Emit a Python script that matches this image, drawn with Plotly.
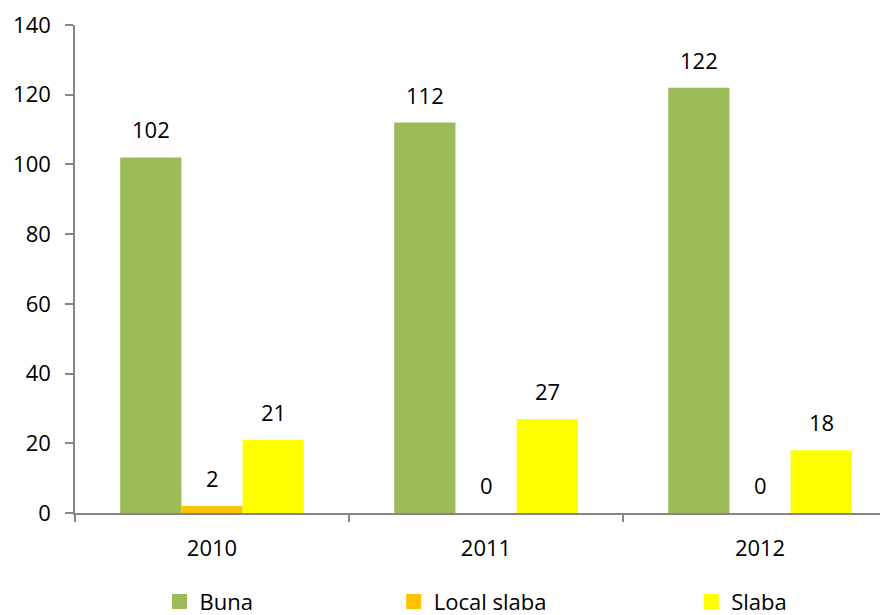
import plotly.graph_objects as go

years = ["2010", "2011", "2012"]
series_names = ["Buna", "Local slaba", "Slaba"]
buna = [102, 112, 122]
local_slaba = [2, 0, 0]
slaba = [21, 27, 18]
colors = ["#9BBB59", "#FFC000", "#FFFF00"]
y_ticks = [0, 20, 40, 60, 80, 100, 120, 140]

FONT = "Open Sans"
FS = 22
AXIS_COL = "#868686"
BARGAP = 0.33

xs = list(range(len(years)))
all_series = [buna, local_slaba, slaba]

fig = go.Figure()
for name, vals, col in zip(series_names, all_series, colors):
    fig.add_trace(go.Bar(x=xs, y=vals, name=name, marker=dict(color=col, line=dict(width=0)),
                         showlegend=False))

# legend swatches (square markers), one legend each so they can be placed like the original
legend_x = [0.104, 0.392, 0.758]
for k, (name, col) in enumerate(zip(series_names, colors)):
    lg = "legend" if k == 0 else f"legend{k+1}"
    fig.add_trace(go.Scatter(x=[None], y=[None], mode="markers", name=name,
                             marker=dict(symbol="square", size=15, color=col),
                             legend=lg, showlegend=True))

# value labels above bars
bw = (1 - BARGAP) / len(series_names)
for j, vals in enumerate(all_series):
    for i, v in enumerate(vals):
        fig.add_annotation(x=xs[i] + (j - 1) * bw, y=v, text=str(v), showarrow=False,
                           yanchor="middle", yshift=28,
                           font=dict(family=FONT, size=FS, color="#000000"))

legends = {}
for k in range(3):
    key = "legend" if k == 0 else f"legend{k+1}"
    legends[key] = dict(x=legend_x[k], y=-0.182, xanchor="left", yanchor="middle",
                        orientation="h", bgcolor="rgba(0,0,0,0)",
                        font=dict(family=FONT, size=FS, color="#000000"),
                        itemwidth=30, tracegroupgap=0)

fig.update_layout(
    width=880, height=607,
    margin=dict(l=67, r=0, t=17, b=102, autoexpand=False),
    paper_bgcolor="white", plot_bgcolor="white",
    barmode="group", bargap=BARGAP, bargroupgap=0,
    font=dict(family=FONT, size=FS, color="#000000"),
    xaxis=dict(range=[-0.5, 2.467], tickmode="array", tickvals=xs, ticktext=years,
               ticks="", showgrid=False, zeroline=False, automargin=False,
               showline=True, linecolor=AXIS_COL, linewidth=1.5,
               ticklabelstandoff=15,
               tickfont=dict(family=FONT, size=FS, color="#000000"),
               minor=dict(tickmode="array", tickvals=[-0.5, 0.5, 1.5, 2.5],
                          ticks="outside", ticklen=7, tickcolor=AXIS_COL, tickwidth=1.5,
                          showgrid=False)),
    yaxis=dict(range=[0, 140], tickmode="array", tickvals=y_ticks,
               ticks="outside", ticklen=8, tickcolor=AXIS_COL, tickwidth=1.5,
               showline=True, linecolor=AXIS_COL, linewidth=1.5,
               showgrid=False, zeroline=False, automargin=False,
               ticklabelstandoff=10,
               tickfont=dict(family=FONT, size=FS, color="#000000")),
    **legends,
)

fig.write_html("out.html")
